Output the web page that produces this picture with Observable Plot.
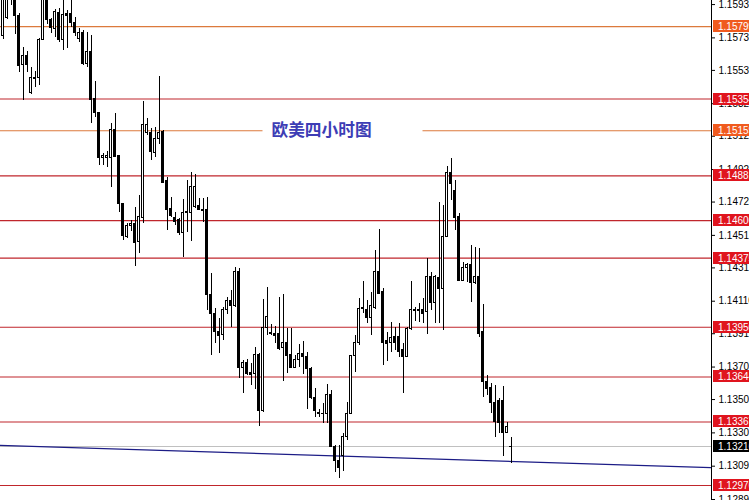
<!DOCTYPE html>
<html>
<head>
<meta charset="utf-8">
<script src="https://cdn.jsdelivr.net/npm/d3@7"></script>
<script src="https://cdn.jsdelivr.net/npm/@observablehq/plot@0.6"></script>
<style>
  html, body { margin: 0; padding: 0; background: #fff; }
  #chart { width: 749px; height: 500px; overflow: hidden; }
</style>
</head>
<body>
<div id="chart"></div>
<script>
// EURUSD, 4-hour candles (oldest first)
const opens = [
  1.15739, 1.15855, 1.15985, 1.16022, 1.15862, 1.15566, 1.15616, 1.15388, 1.15480, 1.15486,
  1.15720, 1.15978, 1.15837, 1.15782, 1.15886, 1.15720, 1.15880, 1.15874, 1.15819, 1.15726,
  1.15763, 1.15572, 1.15646, 1.15351, 1.15265, 1.14994, 1.14994, 1.14994, 1.15166, 1.15006,
  1.14705, 1.14502, 1.14570, 1.14582, 1.14477, 1.14625, 1.15142, 1.15142, 1.15019, 1.15105,
  1.15148, 1.14847, 1.14680, 1.14619, 1.14607, 1.14527, 1.14650, 1.14650, 1.14687, 1.14693,
  1.14674, 1.14674, 1.14151, 1.14034, 1.13918, 1.13905, 1.14059, 1.14114, 1.14078, 1.14287,
  1.13702, 1.13727, 1.13671, 1.13665, 1.13782, 1.13432, 1.13948, 1.13911, 1.13911, 1.13911,
  1.13825, 1.13850, 1.13782, 1.13702, 1.13751, 1.13788, 1.13764, 1.13696, 1.13512, 1.13419,
  1.13419, 1.13419, 1.13536, 1.13216, 1.13124, 1.13155, 1.13272, 1.13419, 1.13770, 1.13856,
  1.14065, 1.14059, 1.14004, 1.14071, 1.14287, 1.14164, 1.13868, 1.13850, 1.13887, 1.13887,
  1.13807, 1.13764, 1.13942, 1.14053, 1.14053, 1.14059, 1.14041, 1.14262, 1.14102, 1.14250,
  1.14188, 1.14508, 1.14896, 1.14785, 1.14631, 1.14237, 1.14317, 1.14330, 1.14219, 1.14256,
  1.13918, 1.13616, 1.13579, 1.13481, 1.13499, 1.13499, 1.13302, 1.13212
];
const highs = [
  1.15997, 1.16009, 1.16052, 1.16040, 1.15880, 1.15671, 1.15646, 1.15548, 1.15523, 1.15726,
  1.16009, 1.15997, 1.15849, 1.15905, 1.15911, 1.15972, 1.15898, 1.15972, 1.15855, 1.15788,
  1.15775, 1.15763, 1.15745, 1.15462, 1.15271, 1.15019, 1.15031, 1.15203, 1.15265, 1.15008,
  1.14711, 1.14588, 1.14607, 1.14687, 1.14760, 1.15339, 1.15234, 1.15173, 1.15179, 1.15492,
  1.15160, 1.14871, 1.14748, 1.14656, 1.14619, 1.14736, 1.14853, 1.14902, 1.14890, 1.14742,
  1.14742, 1.14748, 1.14281, 1.14065, 1.14004, 1.14071, 1.14133, 1.14176, 1.14317, 1.14311,
  1.13745, 1.13751, 1.13727, 1.13825, 1.13788, 1.14121, 1.14194, 1.13967, 1.13954, 1.14133,
  1.14151, 1.13942, 1.13942, 1.13776, 1.13844, 1.13862, 1.13795, 1.13702, 1.13573, 1.13444,
  1.13481, 1.13598, 1.13561, 1.13222, 1.13222, 1.13296, 1.13487, 1.13776, 1.13899, 1.14127,
  1.14231, 1.14114, 1.14164, 1.14422, 1.14551, 1.14188, 1.13918, 1.13979, 1.13948, 1.13973,
  1.13850, 1.13948, 1.14231, 1.14071, 1.14096, 1.14127, 1.14373, 1.14287, 1.14268, 1.14717,
  1.14699, 1.14939, 1.14988, 1.14853, 1.14650, 1.14348, 1.14342, 1.14453, 1.14441, 1.14434,
  1.14090, 1.13653, 1.13604, 1.13592, 1.13512, 1.13585, 1.13364, 1.13272
];
const lows = [
  1.15720, 1.15843, 1.15929, 1.15751, 1.15517, 1.15345, 1.15517, 1.15382, 1.15425, 1.15437,
  1.15714, 1.15812, 1.15757, 1.15732, 1.15702, 1.15652, 1.15665, 1.15794, 1.15739, 1.15702,
  1.15560, 1.15548, 1.15203, 1.15240, 1.14945, 1.14945, 1.14933, 1.14810, 1.14994, 1.14656,
  1.14484, 1.14496, 1.14539, 1.14324, 1.14404, 1.14588, 1.15130, 1.14976, 1.14994, 1.15074,
  1.14834, 1.14545, 1.14625, 1.14576, 1.14514, 1.14379, 1.14533, 1.14477, 1.14680, 1.14668,
  1.14594, 1.14053, 1.13776, 1.13850, 1.13788, 1.13868, 1.14028, 1.13948, 1.14071, 1.13635,
  1.13542, 1.13653, 1.13592, 1.13567, 1.13339, 1.13425, 1.13899, 1.13899, 1.13850, 1.13807,
  1.13616, 1.13665, 1.13696, 1.13696, 1.13702, 1.13659, 1.13444, 1.13505, 1.13395, 1.13395,
  1.13358, 1.13358, 1.13210, 1.13056, 1.13019, 1.13062, 1.13253, 1.13413, 1.13671, 1.13838,
  1.14034, 1.13973, 1.13899, 1.14059, 1.14151, 1.13715, 1.13739, 1.13795, 1.13807, 1.13764,
  1.13542, 1.13762, 1.13930, 1.13985, 1.13979, 1.13973, 1.13905, 1.14053, 1.13973, 1.13973,
  1.13930, 1.14502, 1.14730, 1.14545, 1.14231, 1.14231, 1.14225, 1.14102, 1.14213, 1.13887,
  1.13518, 1.13530, 1.13419, 1.13272, 1.13296, 1.13155, 1.13296, 1.13112
];
const closes = [
  1.15972, 1.15978, 1.16034, 1.15862, 1.15560, 1.15616, 1.15566, 1.15486, 1.15486, 1.15720,
  1.15972, 1.15837, 1.15788, 1.15892, 1.15720, 1.15868, 1.15862, 1.15819, 1.15763, 1.15763,
  1.15572, 1.15646, 1.15345, 1.15265, 1.14994, 1.15006, 1.15006, 1.15166, 1.15000, 1.14705,
  1.14514, 1.14570, 1.14582, 1.14471, 1.14631, 1.15197, 1.15197, 1.15025, 1.15105, 1.15142,
  1.14840, 1.14674, 1.14637, 1.14600, 1.14527, 1.14650, 1.14656, 1.14810, 1.14810, 1.14674,
  1.14668, 1.14151, 1.14034, 1.13918, 1.13893, 1.14059, 1.14114, 1.14078, 1.14287, 1.13702,
  1.13727, 1.13665, 1.13659, 1.13782, 1.13432, 1.13948, 1.14010, 1.13913, 1.13899, 1.13819,
  1.13850, 1.13776, 1.13702, 1.13751, 1.13788, 1.13764, 1.13696, 1.13512, 1.13432, 1.13421,
  1.13417, 1.13536, 1.13216, 1.13124, 1.13087, 1.13272, 1.13419, 1.13770, 1.13856, 1.14065,
  1.14071, 1.14004, 1.14078, 1.14287, 1.14157, 1.13850, 1.13844, 1.13881, 1.13856, 1.13795,
  1.13764, 1.13942, 1.14059, 1.14051, 1.14050, 1.14034, 1.14262, 1.14102, 1.14262, 1.14188,
  1.14508, 1.14896, 1.14834, 1.14625, 1.14237, 1.14317, 1.14330, 1.14219, 1.14256, 1.13911,
  1.13610, 1.13573, 1.13481, 1.13364, 1.13358, 1.13302, 1.13339, 1.13216
];

// Horizontal support / resistance levels
const levelPrices = [1.15799, 1.15354, 1.15159, 1.14881, 1.14606, 1.14375, 1.13950, 1.13644, 1.13367, 1.12976];
const levelKinds  = ["minor", "major", "minor", "major", "major", "major", "major", "major", "major", "major"];

// Last traded price
const currentPrice = 1.13216;

// Trend line anchors (bar index, price)
const trendIndex = [-1, 178];
const trendPrice = [1.13223, 1.13085];

// Price-axis ticks
const tickPrices = [1.15935, 1.15730, 1.15530, 1.15325, 1.15125, 1.14920, 1.14720, 1.14515,
                    1.14315, 1.14110, 1.13910, 1.13705, 1.13505, 1.13300, 1.13095, 1.12890];

// Chart caption, anchored on the 1.15159 level between two bars
const titleText = "欧美四小时图";
const titleFrom = 65, titleTo = 105;

const candles = opens.map((o, i) => ({i, open: o, high: highs[i], low: lows[i], close: closes[i]}));
const levels = levelPrices.map((p, j) => ({price: p, kind: levelKinds[j]}));
const trend = trendIndex.map((x, j) => ({i: x, price: trendPrice[j]}));

const lineColor  = {minor: "#dc7a3c", major: "#c0262c"};
const labelColor = {minor: "#f05a1e", major: "#e0141e"};

const W = 749, H = 500, MR = 38;
const plot = Plot.plot({
  width: W, height: H,
  marginLeft: 0, marginRight: MR, marginTop: 0, marginBottom: 0,
  style: {background: "#fff", fontFamily: "'Liberation Sans', Arial, sans-serif", fontSize: "10px", color: "#000"},
  x: {type: "linear", domain: [-0.625, 177.125], axis: null},
  y: {type: "linear", domain: [1.12884, 1.15960], axis: null},
  marks: [
    Plot.ruleY(levels, {y: "price", stroke: d => lineColor[d.kind], strokeWidth: 1.1}),
    Plot.ruleY([currentPrice], {stroke: "#c0c0c0", shapeRendering: "crispEdges"}),
    Plot.line(trend, {x: "i", y: "price", stroke: "#1c1c86", strokeWidth: 1.2, clip: true}),
    Plot.ruleX(candles, {x: "i", y1: "low", y2: "high", stroke: "#000", strokeWidth: 1, shapeRendering: "crispEdges"}),
    Plot.rect(candles, {
      x1: d => d.i - 0.25, x2: d => d.i + 0.25,
      y1: "open", y2: "close",
      fill: d => d.close >= d.open ? "#fff" : "#000",
      stroke: "#000", strokeWidth: 1, shapeRendering: "crispEdges"
    }),
    Plot.ruleX([177.125], {stroke: "#000", shapeRendering: "crispEdges"}),
    Plot.axisY(tickPrices, {
      anchor: "right", tickSize: 3, tickPadding: 4,
      tickFormat: d3.format(".5f"), fontSize: 10, stroke: "#000"
    })
  ]
});

// Price tags on the axis for each level and for the last price
const ys = plot.scale("y"), xs = plot.scale("x");
const svg = d3.select(plot);
const tags = svg.append("g")
  .attr("font-size", 10)
  .attr("font-family", "'Liberation Sans', Arial, sans-serif")
  .attr("text-anchor", "start");
const tagData = levels.map(d => ({price: d.price, fill: labelColor[d.kind]}))
  .concat([{price: currentPrice, fill: "#000"}]);
for (const t of tagData) {
  const y = Math.round(ys.apply(t.price));
  tags.append("rect").attr("x", W - MR + 2).attr("y", y - 6).attr("width", MR).attr("height", 12).attr("fill", t.fill);
  tags.append("text").attr("x", W - MR + 7).attr("y", y).attr("dy", "0.35em").attr("fill", "#fff")
    .attr("text-anchor", "start")
    .text(d3.format(".5f")(t.price));
}

// Caption sitting on the level line with a white backing
const ty = ys.apply(1.15159);
const cap = svg.append("g").attr("text-anchor", "start");
cap.append("rect").attr("x", xs.apply(titleFrom)).attr("y", ty - 10)
  .attr("width", xs.apply(titleTo) - xs.apply(titleFrom)).attr("height", 20).attr("fill", "#fff");
cap.append("text").attr("x", xs.apply(titleFrom) + 9).attr("y", ty).attr("dy", "0.36em")
  .attr("text-anchor", "start")
  .attr("fill", "#3d3db5").attr("font-weight", "bold").attr("font-size", 16.7)
  .attr("font-family", "'Noto Sans CJK SC', sans-serif").text(titleText);

document.getElementById("chart").appendChild(plot);
</script>
</body>
</html>
